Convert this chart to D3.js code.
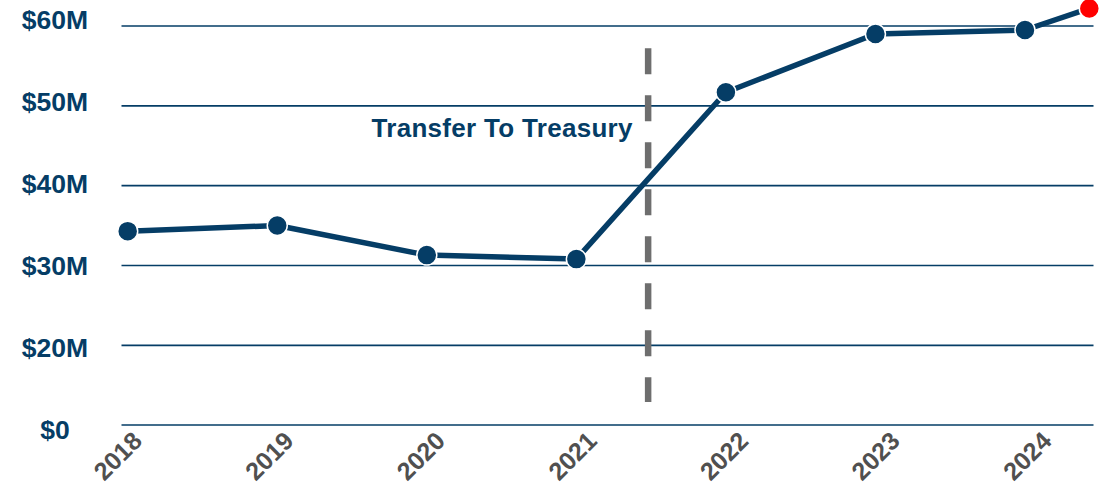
<!DOCTYPE html>
<html>
<head>
<meta charset="utf-8">
<script src="https://cdn.jsdelivr.net/npm/d3@7"></script>
<style>
  html, body { margin: 0; padding: 0; background: #ffffff; }
  svg { display: block; }
  text { font-family: "Liberation Sans", Arial, Helvetica, sans-serif; font-weight: bold; }
</style>
</head>
<body>
<svg id="chart" width="1110" height="488"></svg>
<script>
// ---- data ----
const years = [2018, 2019, 2020, 2021, 2022, 2023, 2024];
const values = [34.3, 35.0, 31.3, 30.8, 51.7, 59.0, 59.5]; // $M
const latestYear = 2024.43;   // most recent (highlighted) reading
const latestValue = 62.2;     // $M
const tickValues = [60, 50, 40, 30, 20, 0];
const tickLabels = ["$60M", "$50M", "$40M", "$30M", "$20M", "$0"];
const xLabels = ["2018", "2019", "2020", "2021", "2022", "2023", "2024"];
const eventYear = 2021.48;
const eventLabel = "Transfer To Treasury";

// ---- styles ----
const NAVY = "#053d66";
const GRAY = "#505050";
const DASH = "#6e6e6e";

const svg = d3.select("#chart");

// scales
const x = d3.scaleLinear().domain([2018, 2024]).range([127.7, 1025]);
const y = d3.scaleLinear().domain([0, 20, 60]).range([425, 345.3, 26]);
const yLabel = d3.scalePoint().domain(tickLabels).range([19.5, 429.5]);
const xLabel = d3.scaleLinear().domain([2018, 2024]).range([143.5, 1053]);

// gridlines
svg.append("g").selectAll("line").data(tickValues).join("line")
  .attr("x1", 121.5).attr("x2", 1093.5)
  .attr("y1", d => y(d)).attr("y2", d => y(d))
  .attr("stroke", NAVY).attr("stroke-width", 1.7);

// y labels
svg.append("g").selectAll("text").data(tickLabels).join("text")
  .attr("x", 55).attr("y", d => yLabel(d))
  .attr("text-anchor", "middle").attr("dominant-baseline", "central")
  .attr("font-size", 26.5).attr("fill", NAVY)
  .text(d => d);

// x labels
svg.append("g").selectAll("text").data(years).join("text")
  .attr("transform", (d) => `translate(${xLabel(d)},${442.5}) rotate(-45)`)
  .attr("text-anchor", "end")
  .attr("font-size", 25).attr("fill", GRAY)
  .text((d, i) => xLabels[i]);

// event dashed line
svg.append("line")
  .attr("x1", x(eventYear)).attr("x2", x(eventYear))
  .attr("y1", 48.3).attr("y2", 402)
  .attr("stroke", DASH).attr("stroke-width", 6.5)
  .attr("stroke-dasharray", "26,21");

svg.append("text")
  .attr("x", 371.5).attr("y", 137.3)
  .attr("font-size", 26).attr("letter-spacing", 0.3).attr("fill", NAVY)
  .text(eventLabel);

// line
const pts = years.map((yr, i) => [yr, values[i]]).concat([[latestYear, latestValue]]);
svg.append("path")
  .datum(pts)
  .attr("d", d3.line().x(d => x(d[0])).y(d => y(d[1])))
  .attr("fill", "none").attr("stroke", NAVY).attr("stroke-width", 5.5)
  .attr("stroke-linejoin", "round");

// points
svg.append("g").selectAll("circle").data(years).join("circle")
  .attr("cx", d => x(d)).attr("cy", (d, i) => y(values[i]))
  .attr("r", 10).attr("fill", NAVY)
  .attr("stroke", "#ffffff").attr("stroke-width", 1.5);

svg.append("circle")
  .attr("cx", x(latestYear)).attr("cy", y(latestValue))
  .attr("r", 10).attr("fill", "#ff0000")
  .attr("stroke", "#ffffff").attr("stroke-width", 1.5);
</script>
</body>
</html>
